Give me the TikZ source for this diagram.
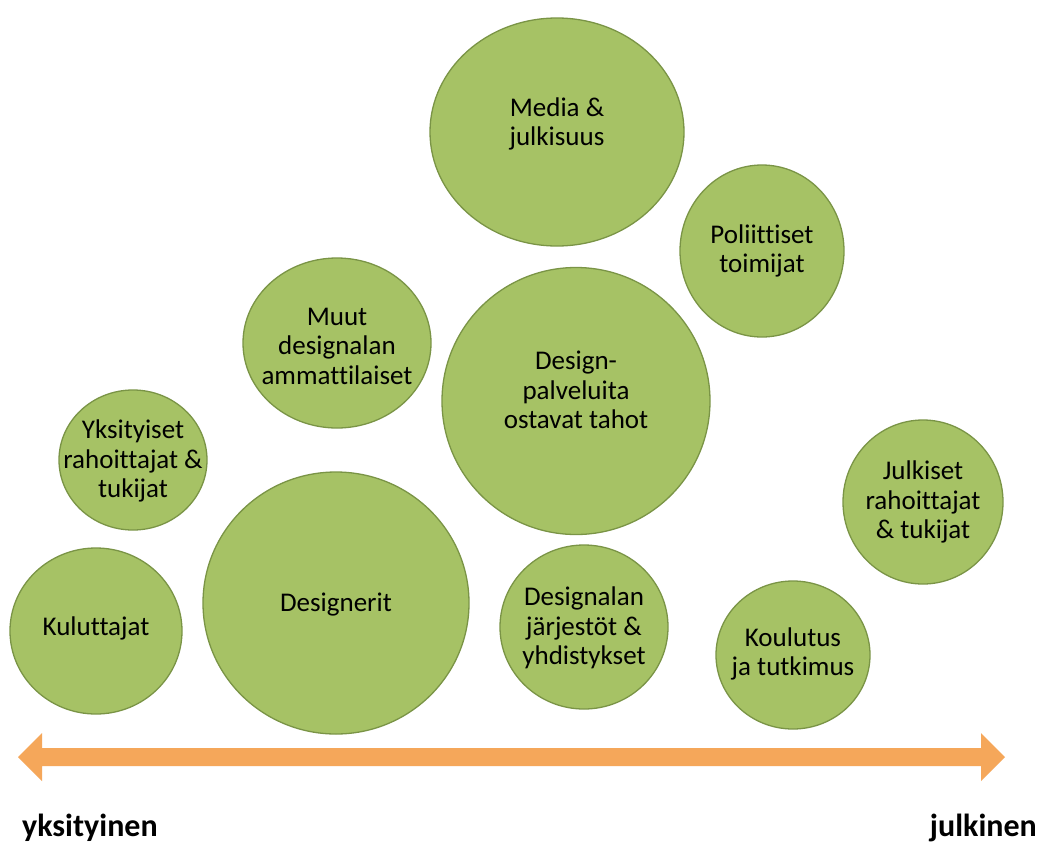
\documentclass[tikz,border=0pt]{standalone}
\usepackage{fontspec}
\setmainfont{Carlito}[Ligatures=NoCommon]
\usetikzlibrary{shapes.geometric,calc}
\definecolor{bubfill}{HTML}{A6C265}
\definecolor{bubline}{HTML}{7A9446}
\definecolor{arrcol}{HTML}{F5A75A}
\tikzset{
  bubble/.style={ellipse, draw=bubline, line width=1.3pt, fill=bubfill, inner sep=0pt},
  btext/.style={align=center, inner sep=0pt, font=\fontsize{27}{29.5}\selectfont, text=black},
  axislbl/.style={font=\fontsize{32}{36}\selectfont\bfseries, text=black, inner sep=0pt}
}
\begin{document}
\begin{tikzpicture}[x=1pt,y=-1pt]
\useasboundingbox[fill=white] (0,0) rectangle (1042,844);
\node[bubble, minimum width=254pt, minimum height=228pt] (media) at (557,132) {};
\node[bubble, minimum width=164pt, minimum height=172pt] (poli) at (762,251) {};
\node[bubble, minimum width=188pt, minimum height=170pt] (muut) at (337,343) {};
\node[bubble, minimum width=268pt, minimum height=267pt] (ostavat) at (576,401) {};
\node[bubble, minimum width=148pt, minimum height=140pt] (yksit) at (133,460) {};
\node[bubble, minimum width=160pt, minimum height=164pt] (julk) at (923,502) {};
\node[bubble, minimum width=172pt, minimum height=166pt] (kulut) at (96,631) {};
\node[bubble, minimum width=266pt, minimum height=262pt] (designerit) at (336,603) {};
\node[bubble, minimum width=168pt, minimum height=164pt] (jarj) at (584,627) {};
\node[bubble, minimum width=154pt, minimum height=148pt] (koul) at (793,655) {};
% texts
\node[btext] (tmedia) at ($(media.center)+(0,-8)$) {Media \&\\julkisuus};
\node[btext] (tpoli) at ($(poli.center)+(0,0)$) {Poliittiset\\toimijat};
\node[btext] (tmuut) at ($(muut.center)+(0,3)$) {Muut\\designalan\\ammattilaiset};
\node[btext] (tostavat) at ($(ostavat.center)+(0,-11)$) {Design-\\palveluita\\ostavat tahot};
\node[btext] (tyksit) at ($(yksit.center)+(0,1)$) {Yksityiset\\rahoittajat \&\\tukijat};
\node[btext] (tjulk) at ($(julk.center)+(0,0)$) {Julkiset\\rahoittajat\\\& tukijat};
\node[btext] (tkulut) at ($(kulut.center)+(0,-3)$) {Kuluttajat};
\node[btext] (tdesignerit) at ($(designerit.center)+(0,2)$) {Designerit};
\node[btext] (tjarj) at ($(jarj.center)+(0,1)$) {Designalan\\järjestöt \&\\yhdistykset};
\node[btext] (tkoul) at ($(koul.center)+(0,-1)$) {Koulutus\\ja tutkimus};
% axis arrow
\coordinate (lt) at (18,757);
\coordinate (rt) at (1005,757);
\fill[arrcol] (lt) -- (42,733) -- (42,748) -- (981,748) -- (981,733) -- (rt) -- (981,781) -- (981,766) -- (42,766) -- (42,781) -- cycle;
\node[axislbl, anchor=base west] (priv) at (22,836) {yksityinen};
\node[axislbl, anchor=base east] (pub) at (1037,836) {julkinen};
\end{tikzpicture}
\end{document}
